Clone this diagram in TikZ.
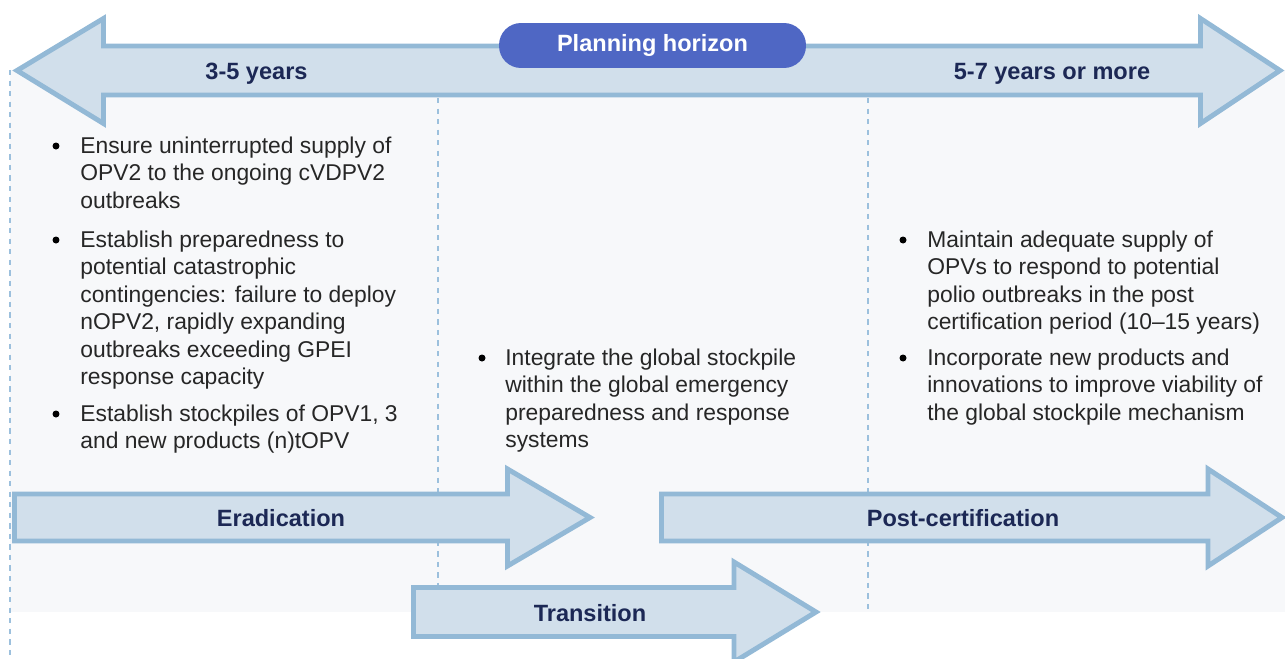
\documentclass[tikz,border=0pt]{standalone}
\usepackage{fontspec}
\setmainfont{Liberation Sans}
\usepackage{xcolor}
\usepackage{tikz}
\usetikzlibrary{shapes,calc,backgrounds}

\definecolor{arrowline}{HTML}{93B9D6}
\definecolor{arrowfill}{HTML}{D1DFEB}
\definecolor{panelgray}{HTML}{F7F8FA}
\definecolor{pillblue}{HTML}{4F67C4}
\definecolor{navy}{HTML}{1C2855}
\definecolor{dashblue}{HTML}{9CC0DD}
\definecolor{bodygray}{HTML}{262626}

\tikzset{
  bigarrow/.style={draw=arrowline, fill=arrowfill, line width=2.8pt, line join=miter},
  phase/.style={text=navy, font=\fontsize{13.4}{16}\selectfont\bfseries},
  bullettext/.style={text=bodygray, font=\fontsize{13}{15.6}\selectfont, align=left, anchor=base west, inner sep=0pt},
  bulletdot/.style={circle, fill=black, inner sep=0pt, minimum size=0.14cm},
  sepline/.style={draw=dashblue, dashed, line width=0.6pt}
}

\begin{document}
\begin{tikzpicture}[x=0.02cm,y=-0.02cm]
      \useasboundingbox (0,0) rectangle (1285,659);
      \fill [panelgray] (10,70) rectangle (1285,612);
      \draw [sepline] (10,70) -- (10,659);
      \draw [sepline] (438,98) -- (438,612);
      \draw [sepline] (868,98) -- (868,612);

      \draw [bigarrow] (17,70.5) -- (103.5,18.5) -- (103.5,46) -- (1200.5,46) -- (1200.5,18.5)
        -- (1280,70.5) -- (1200.5,123.5) -- (1200.5,95) -- (103.5,95) -- (103.5,123.5) -- cycle;
      \node (short) at (256.5,74) [phase] {3-5 years};
      \node (long) at (1052,74) [phase] {5-7 years or more};
      \node (horizon) at (652.5,45.5) [fill=pillblue, text=white, rounded corners=0.44cm,
        minimum width=6.14cm, minimum height=0.9cm, text height=1.45ex, text depth=0.1ex,
        font=\fontsize{13.4}{16}\selectfont\bfseries] {Planning horizon};

      \draw [bigarrow] (14.5,494) -- (507.5,494) -- (507.5,469) -- (590,517.5) -- (507.5,566)
        -- (507.5,541) -- (14.5,541) -- cycle;
      \node (eradication) at (281,518.5) [phase] {Eradication};
      \draw [bigarrow] (661.5,494) -- (1208,494) -- (1208,469) -- (1282,517.5) -- (1208,566)
        -- (1208,541) -- (661.5,541) -- cycle;
      \node (postcert) at (963,518.5) [phase] {Post-certification};
      \draw [bigarrow] (413.5,587.5) -- (734,587.5) -- (734,562) -- (816,612) -- (734,662)
        -- (734,636.5) -- (413.5,636.5) -- cycle;
      \node (transition) at (590,613) [phase] {Transition};

      \node (dotA) at (56,146) [bulletdot] {};
      \node (itemA) at (80,208) [bullettext] {Ensure uninterrupted supply of\\OPV2 to the ongoing cVDPV2\\outbreaks};
      \node (dotB) at (56,240) [bulletdot] {};
      \node (itemB) at (80,384.5) [bullettext] {Establish preparedness to\\potential catastrophic\\contingencies: failure to deploy\\nOPV2, rapidly expanding\\outbreaks exceeding GPEI\\response capacity};
      \node (dotC) at (56,414) [bulletdot] {};
      \node (itemC) at (80,448.5) [bullettext] {Establish stockpiles of OPV1, 3\\and new products (n)tOPV};

      \node (dotD) at (482,358) [bulletdot] {};
      \node (itemD) at (505,447.5) [bullettext] {Integrate the global stockpile\\within the global emergency\\preparedness and response\\systems};

      \node (dotE) at (903,240) [bulletdot] {};
      \node (itemE) at (927,329.5) [bullettext] {Maintain adequate supply of\\OPVs to respond to potential\\polio outbreaks in the post\\certification period (10--15 years)};
      \node (dotF) at (903,358) [bulletdot] {};
      \node (itemF) at (927,420) [bullettext] {Incorporate new products and\\innovations to improve viability of\\the global stockpile mechanism};
\end{tikzpicture}
\end{document}
